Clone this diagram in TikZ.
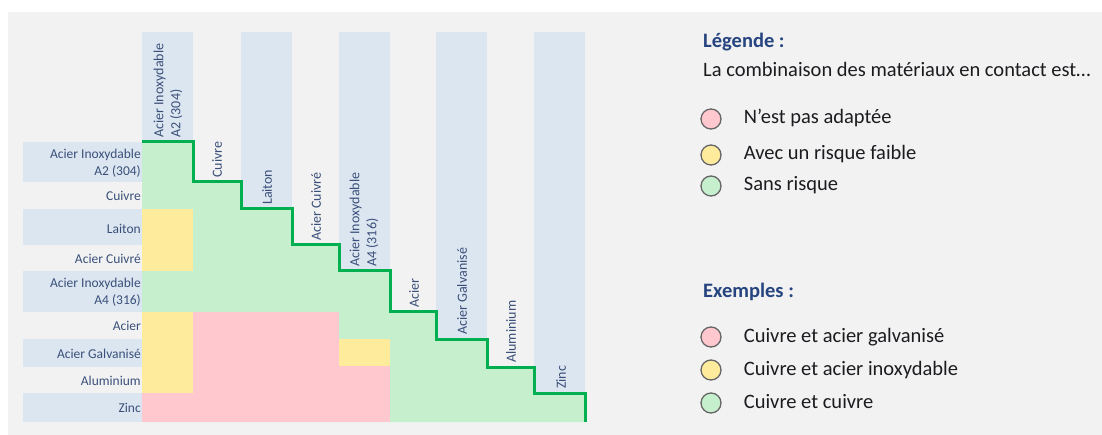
\documentclass[tikz,border=0pt]{standalone}
\usepackage{fontspec}
\setmainfont{Carlito}
\usepackage{tikz}
\usetikzlibrary{positioning}
\definecolor{bggray}{RGB}{242,242,242}
\definecolor{bandblue}{RGB}{220,230,241}
\definecolor{okgreen}{RGB}{198,239,206}
\definecolor{lowyellow}{RGB}{255,235,156}
\definecolor{badpink}{RGB}{255,199,206}
\definecolor{stairgreen}{RGB}{0,176,80}
\definecolor{labelblue}{RGB}{58,80,122}
\definecolor{headblue}{RGB}{38,68,128}
\definecolor{bodytext}{RGB}{28,28,32}

\begin{document}
\begin{tikzpicture}[x=1pt,y=-1pt,
    rowlab/.style={anchor=east,align=right,inner sep=1pt,text=labelblue,font=\fontsize{13.5}{17}\selectfont},
    collab/.style={rotate=90,anchor=west,align=left,inner sep=1pt,text=labelblue,font=\fontsize{14}{17}\selectfont},
    legdot/.style={circle,draw=gray!80!black,line width=1.3pt,minimum size=20pt,inner sep=0pt},
    legtext/.style={anchor=west,inner sep=0pt,text=bodytext,font=\fontsize{20.5}{24}\selectfont,text height=14pt,text depth=4pt},
    leghead/.style={legtext,text=headblue,font=\fontsize{20.5}{24}\selectfont\bfseries}]
    \useasboundingbox (0,0) rectangle (1102,435);
    \fill[bggray] (8,12) rectangle (1102,435);

    % header bands, every other column and row
    \foreach \l/\r/\t/\b in {142/193/142/182, 241/292/209/245, 339/390/271/312, 436/487/339/367, 534/585/393/422} {
        \fill[bandblue] (\l,32) rectangle (\r,\t);
        \fill[bandblue] (23,\t) rectangle (142,\b);
    }

    % cells
    \fill[okgreen] (142,142) -- (193,142) -- (193,182) -- (241,182) -- (241,209) -- (292,209) -- (292,245)
        -- (339,245) -- (339,271) -- (390,271) -- (390,312) -- (436,312) -- (436,339) -- (487,339)
        -- (487,367) -- (534,367) -- (534,393) -- (585,393) -- (585,422) -- (142,422) -- cycle;
    \fill[lowyellow] (142,209) rectangle (193,271);
    \fill[lowyellow] (142,312) rectangle (193,393);
    \fill[lowyellow] (339,339) rectangle (390,366);
    \fill[badpink] (193,312) rectangle (339,393);
    \fill[badpink] (339,366) rectangle (390,393);
    \fill[badpink] (142,393) rectangle (390,422);

    % staircase border
    \draw[stairgreen,line width=3pt] (142,142) -- (193,142) -- (193,182) -- (241,182) -- (241,209) -- (292,209)
        -- (292,245) -- (339,245) -- (339,271) -- (390,271) -- (390,312) -- (436,312) -- (436,339)
        -- (487,339) -- (487,367) -- (534,367) -- (534,393) -- (585,393) -- (585,422);

    % row labels
    \foreach \y/\txt [count=\i] in {163/{Acier Inoxydable\\A2 (304)}, 196/Cuivre, 229/Laiton, 259/Acier Cuivré,
        292/{Acier Inoxydable\\A4 (316)}, 326/Acier, 354/Acier Galvanisé, 381/Aluminium, 408/Zinc}
        \node[rowlab] (r\i) at (142,\y) {\txt};

    % column labels
    \foreach \x/\y/\txt [count=\i] in {168/139/{Acier Inoxydable\\A2 (304)}, 217/179/Cuivre, 267/206/Laiton,
        316/242/Acier Cuivré, 364/268/{Acier Inoxydable\\A4 (316)}, 414/309/Acier, 462/336/Acier Galvanisé,
        511/364/Aluminium, 561/390/Zinc}
        \node[collab] (c\i) at (\x,\y) {\txt};

    % legend
    \node[leghead] (legende) at (703,43) {Légende :};
    \node[legtext] (combi) at (703,72) {La combinaison des matériaux en contact est…};
    \node[legdot,fill=badpink] (p1) at (711,119) {};
    \node[legdot,fill=lowyellow] (p2) at (711,155) {};
    \node[legdot,fill=okgreen] (p3) at (711,186) {};
    \node[legtext,right=22pt of p1] (t1) {N'est pas adaptée};
    \node[legtext,right=22pt of p2] (t2) {Avec un risque faible};
    \node[legtext,right=22pt of p3] (t3) {Sans risque};

    % examples
    \node[leghead] (exemples) at (703,293) {Exemples :};
    \node[legdot,fill=badpink] (e1) at (711,337) {};
    \node[legdot,fill=lowyellow] (e2) at (711,370) {};
    \node[legdot,fill=okgreen] (e3) at (711,403) {};
    \node[legtext,right=22pt of e1] (x1) {Cuivre et acier galvanisé};
    \node[legtext,right=22pt of e2] (x2) {Cuivre et acier inoxydable};
    \node[legtext,right=22pt of e3] (x3) {Cuivre et cuivre};
\end{tikzpicture}
\end{document}
